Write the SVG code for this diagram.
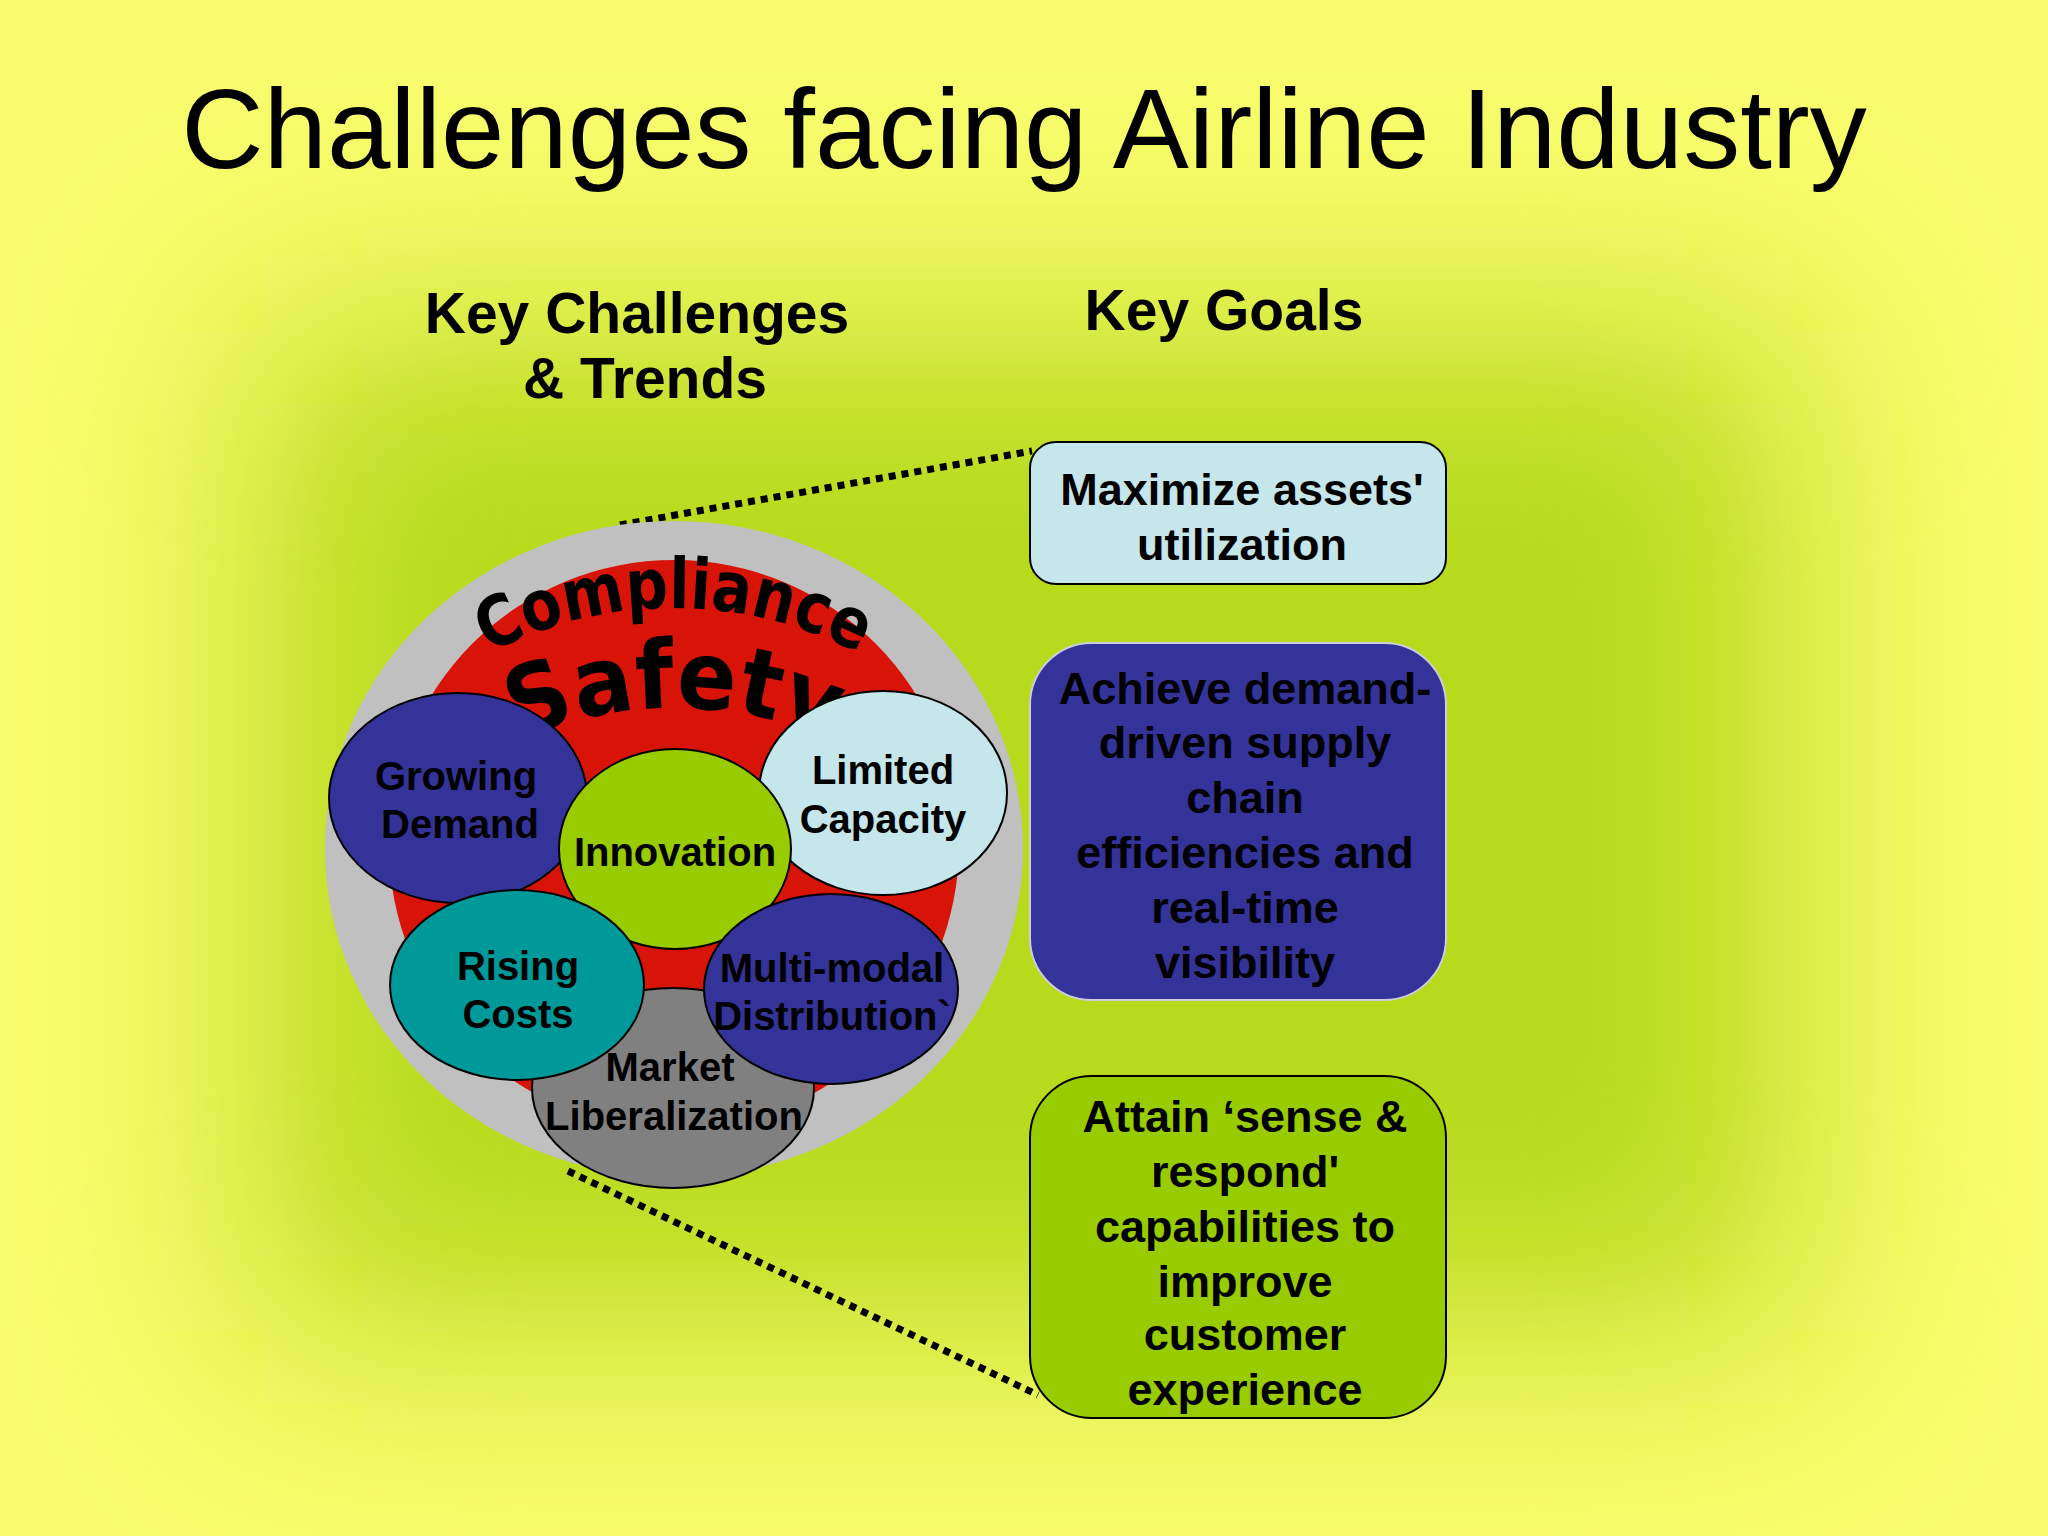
<svg xmlns="http://www.w3.org/2000/svg" width="2048" height="1536" viewBox="0 0 2048 1536">
<defs>
<filter id="blur" x="-30%" y="-30%" width="160%" height="160%"><feGaussianBlur stdDeviation="110"/></filter>
<path id="arcC" d="M 274 1008 A 400 400 0 0 1 1074 1008"/>
<path id="arcS" d="M 284 1098 A 390 390 0 0 1 1064 1098"/>
<style>
text{font-family:"Liberation Sans",Arial,sans-serif;font-weight:bold;fill:#000}
.n{font-size:40px;text-anchor:middle}
.g{font-size:45px;text-anchor:middle}
.h{font-size:57px;text-anchor:middle}
.e{stroke:#000;stroke-width:2}
.dot{stroke:#000;stroke-width:7;stroke-dasharray:7 6;fill:none}
</style>
</defs>
<rect width="2048" height="1536" fill="#f8fc6c"/>
<rect x="260" y="330" width="1530" height="1000" fill="#b8da1a" filter="url(#blur)"/>
<text x="1024" y="168" style="font-size:114px;font-weight:normal" text-anchor="middle">Challenges facing Airline Industry</text>
<text class="h" x="637" y="333">Key Challenges</text>
<text class="h" x="645" y="398">&amp; Trends</text>
<text class="h" x="1224" y="330">Key Goals</text>
<g id="connectors">
<line class="dot" x1="620" y1="525" x2="1032" y2="451"/>
<line class="dot" x1="568" y1="1171" x2="1038" y2="1395"/>
</g>
<g id="wheel">
<ellipse cx="674" cy="849" rx="349" ry="328" fill="#c0c0c0"/>
<circle cx="674" cy="845" r="285" fill="#d81408"/>
<text style="font-size:70px;font-family:'DejaVu Sans',sans-serif;font-weight:900" text-anchor="middle"><textPath href="#arcC" startOffset="50%" textLength="385" lengthAdjust="spacingAndGlyphs">Compliance</textPath></text>
<text style="font-size:95px;font-family:'DejaVu Sans',sans-serif;font-weight:900" text-anchor="middle"><textPath href="#arcS" startOffset="50%" textLength="320" lengthAdjust="spacingAndGlyphs">Safety</textPath></text>
</g>
<g id="growing"><ellipse class="e" cx="458" cy="798" rx="129" ry="105" fill="#333399"/><text class="n" x="456" y="790">Growing</text><text class="n" x="460" y="838">Demand</text></g>
<g id="limited"><ellipse class="e" cx="883" cy="793" rx="124" ry="102" fill="#c5e6ea"/><text class="n" x="883" y="784">Limited</text><text class="n" x="883" y="833">Capacity</text></g>
<g id="innovation"><ellipse class="e" cx="675" cy="849" rx="116" ry="100" fill="#99cc00"/><text class="n" x="675" y="866">Innovation</text></g>
<g id="market"><ellipse class="e" cx="673" cy="1088" rx="141" ry="100" fill="#808080"/><text class="n" x="670" y="1081">Market</text><text class="n" x="674" y="1130">Liberalization</text></g>
<g id="rising"><ellipse class="e" cx="517" cy="985" rx="127" ry="95" fill="#009999"/><text class="n" x="518" y="980">Rising</text><text class="n" x="518" y="1028">Costs</text></g>
<g id="multimodal"><ellipse class="e" cx="831" cy="989" rx="127" ry="95" fill="#333399"/><text class="n" x="832" y="982">Multi-modal</text><text class="n" x="832" y="1030">Distribution`</text></g>
<g id="goal1"><rect x="1030" y="442" width="416" height="142" rx="26" fill="#c5e6ea" stroke="#000" stroke-width="2"/><text class="g" x="1242" y="505">Maximize assets'</text><text class="g" x="1242" y="560">utilization</text></g>
<g id="goal2"><rect x="1030" y="643" width="416" height="357" rx="62" fill="#333399" stroke="#ccd" stroke-width="2"/>
<text class="g" x="1245" y="704">Achieve demand-</text><text class="g" x="1245" y="758">driven supply</text><text class="g" x="1245" y="813">chain</text><text class="g" x="1245" y="868">efficiencies and</text><text class="g" x="1245" y="923">real-time</text><text class="g" x="1245" y="978">visibility</text></g>
<g id="goal3"><rect x="1030" y="1076" width="416" height="342" rx="62" fill="#99cc00" stroke="#000" stroke-width="2"/>
<text class="g" x="1245" y="1132">Attain ‘sense &amp;</text><text class="g" x="1245" y="1187">respond'</text><text class="g" x="1245" y="1242">capabilities to</text><text class="g" x="1245" y="1297">improve</text><text class="g" x="1245" y="1350">customer</text><text class="g" x="1245" y="1405">experience</text></g>
</svg>
